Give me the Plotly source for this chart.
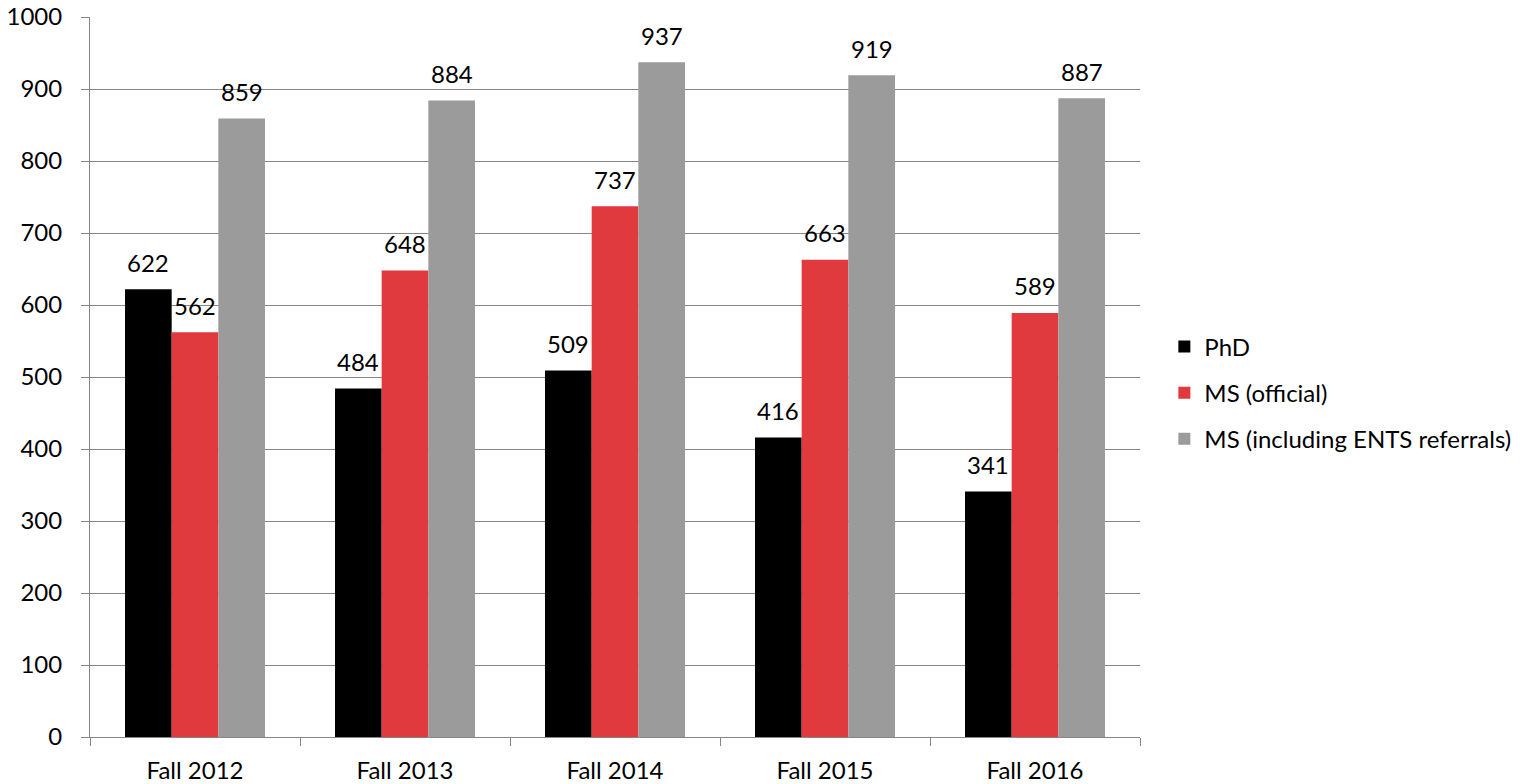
import plotly.graph_objects as go

categories = ["Fall 2012", "Fall 2013", "Fall 2014", "Fall 2015", "Fall 2016"]
series_names = ["PhD", "MS (official)", "MS (including ENTS referrals)"]
phd = [622, 484, 509, 416, 341]
ms_official = [562, 648, 737, 663, 589]
ms_incl = [859, 884, 937, 919, 887]
colors = ["#000000", "#E0393E", "#9B9B9B"]
y_ticks = [0, 100, 200, 300, 400, 500, 600, 700, 800, 900, 1000]

FONT = "Lato"
FS = 24
AX = "#868686"

W, H = 1534, 784
left_m, right_m, top_m, bot_m = 90, 394, 17, 47
plot_w = W - left_m - right_m

fig = go.Figure()
all_series = [phd, ms_official, ms_incl]
for i, (name, vals, col) in enumerate(zip(series_names, all_series, colors)):
    fig.add_trace(go.Bar(
        x=categories, y=vals, name=name,
        marker=dict(color=col, line=dict(width=0)),
        legendgroup=name,
    ))

# data labels
cat_w = plot_w / len(categories)
bar_w = cat_w * (2 / 3) / 3
for i, vals in enumerate(all_series):
    for c, v in zip(categories, vals):
        fig.add_annotation(
            x=c, y=v, text=str(v), showarrow=False,
            xshift=(i - 1) * bar_w, yshift=27,
            yanchor="middle", xanchor="center",
            font=dict(family=FONT, size=FS, color="#000000"),
        )

fig.update_layout(
    width=W, height=H,
    margin=dict(l=left_m, r=right_m, t=top_m, b=bot_m, autoexpand=False),
    paper_bgcolor="white", plot_bgcolor="white",
    barmode="group", bargap=1/3, bargroupgap=0,
    font=dict(family=FONT, size=FS, color="#000000"),
    showlegend=True,
    legend=dict(
        x=1.0232, y=0.478, xanchor="left", yanchor="middle",
        font=dict(family=FONT, size=FS, color="#000000"),
        tracegroupgap=12, itemwidth=30, bgcolor="rgba(0,0,0,0)",
    ),
)
fig.update_xaxes(
    type="category", showline=True, linecolor=AX, linewidth=1,
    ticks="outside", tickson="boundaries", ticklen=8, tickcolor=AX, tickwidth=1,
    showgrid=False, ticklabelstandoff=12, ticklabeloverflow="allow",
    tickfont=dict(family=FONT, size=FS, color="#000000"),
)
fig.update_yaxes(
    range=[0, 1000], tickvals=y_ticks, ticktext=[str(t) for t in y_ticks],
    showline=True, linecolor=AX, linewidth=1,
    ticks="outside", ticklen=8, tickcolor=AX, tickwidth=1,
    showgrid=True, gridcolor=AX, gridwidth=1, zeroline=False,
    ticklabelstandoff=14, ticklabeloverflow="allow",
    tickfont=dict(family=FONT, size=FS, color="#000000"),
)

fig.write_html(
    "out.html",
    config={"displayModeBar": False},
    post_script="document.body.style.margin='0';document.body.style.overflow='hidden';",
)
